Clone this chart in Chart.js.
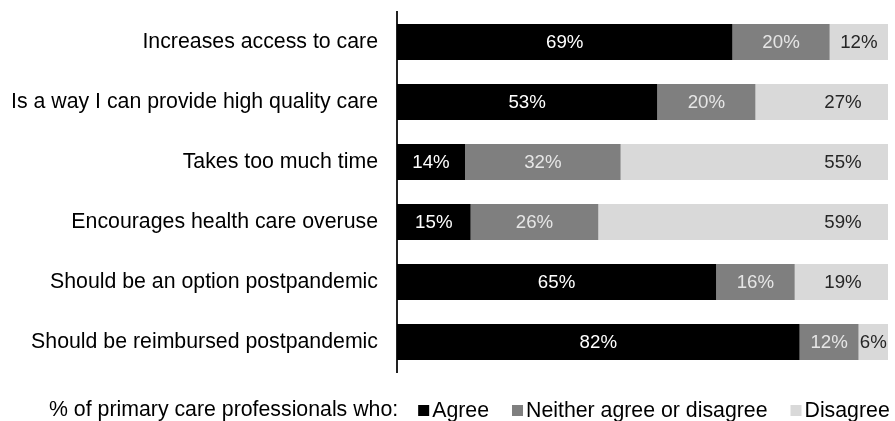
<!DOCTYPE html>
<html lang="en">
<head>
  <meta charset="UTF-8">
  <title>Primary care professionals and telehealth</title>
  <script src="https://cdn.jsdelivr.net/npm/chart.js"></script>
  <style>
    html, body { margin: 0; padding: 0; background: #fff; }
    #wrap { width: 895px; height: 421px; }
  </style>
</head>
<body>
  <div id="wrap"><canvas id="teleChart"></canvas></div>

  <script>
    const categories = [
      'Increases access to care',
      'Is a way I can provide high quality care',
      'Takes too much time',
      'Encourages health care overuse',
      'Should be an option postpandemic',
      'Should be reimbursed postpandemic'
    ];
    const agree = [69, 53, 14, 15, 65, 82];
    const neither = [20, 20, 32, 26, 16, 12];
    const disagree = [12, 27, 55, 59, 19, 6];
    const seriesNames = ['Agree', 'Neither agree or disagree', 'Disagree'];
    const legendPrefix = '% of primary care professionals who:';

    const fontFamily = '"Liberation Sans", Arial, sans-serif';
    const raw = [agree, neither, disagree];
    const fills = ['#000000', '#7f7f7f', '#d9d9d9'];
    const labelColors = ['#ffffff', '#e6e6e6', '#262626'];

    // 100% stacked: each row is scaled to its own total
    const totals = categories.map((c, i) => agree[i] + neither[i] + disagree[i]);
    const share = arr => arr.map((v, i) => v / totals[i] * 100);

    const barLabels = {
      id: 'barLabels',
      afterDatasetsDraw(chart) {
        const ctx = chart.ctx;
        ctx.save();
        ctx.font = '18.7px ' + fontFamily;
        ctx.textAlign = 'center';
        ctx.textBaseline = 'middle';
        chart.data.datasets.forEach((ds, d) => {
          chart.getDatasetMeta(d).data.forEach((bar, i) => {
            const p = bar.getProps(['x', 'y', 'base'], true);
            let cx = (p.x + p.base) / 2;
            if (d === 2) cx = Math.max(cx, p.x - 45);
            ctx.fillStyle = labelColors[d];
            ctx.fillText(raw[d][i] + '%', cx, p.y + 1);
          });
        });
        ctx.restore();
      }
    };

    const bottomLegend = {
      id: 'bottomLegend',
      afterDraw(chart) {
        const ctx = chart.ctx;
        const y = 410;
        let x = 49;
        ctx.save();
        ctx.font = '21.3px ' + fontFamily;
        ctx.textBaseline = 'middle';
        ctx.fillStyle = '#000';
        ctx.fillText(legendPrefix, x, y);
        x += ctx.measureText(legendPrefix).width + 20;
        chart.data.datasets.forEach((ds, d) => {
          ctx.fillStyle = ds.backgroundColor;
          ctx.fillRect(x, y - 5, 11, 11);
          x += 14;
          ctx.fillStyle = '#000';
          ctx.fillText(ds.label, x, y + 1);
          x += ctx.measureText(ds.label).width + 23;
        });
        ctx.restore();
      }
    };

    new Chart(document.getElementById('teleChart'), {
      type: 'bar',
      data: {
        labels: categories,
        datasets: raw.map((arr, d) => ({
          label: seriesNames[d],
          data: share(arr),
          backgroundColor: fills[d],
          borderWidth: 0,
          barPercentage: 0.6,
          categoryPercentage: 1
        }))
      },
      options: {
        indexAxis: 'y',
        responsive: true,
        maintainAspectRatio: false,
        animation: false,
        layout: { padding: { top: 12, right: 7, bottom: 49, left: 0 } },
        scales: {
          x: { stacked: true, min: 0, max: 100, display: false },
          y: {
            stacked: true,
            afterFit: scale => {
              scale.width = 397;
              scale.paddingTop = 0;
              scale.paddingBottom = 0;
            },
            grid: { display: false, drawTicks: false },
            border: { display: true, color: '#222', width: 2 },
            ticks: { padding: 19, color: '#000', font: { family: fontFamily, size: 21.3 } }
          }
        },
        plugins: {
          legend: { display: false },
          tooltip: { enabled: false }
        }
      },
      plugins: [barLabels, bottomLegend]
    });
  </script>
</body>
</html>
